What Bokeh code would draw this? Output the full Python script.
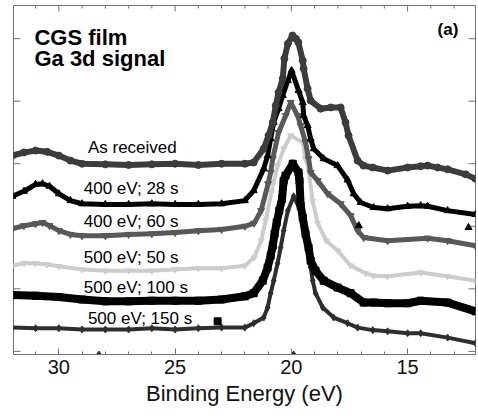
from bokeh.plotting import figure
from bokeh.models import Range1d, LinearAxis, FixedTicker, Label, ColumnDataSource
from bokeh.embed import file_html
from bokeh.resources import INLINE

# ---------------- data (binding energy in eV, intensity in arb. units, offset) -------------
series_names = ["As received", "400 eV; 28 s", "400 eV; 60 s",
                "500 eV; 50 s", "500 eV; 100 s", "500 eV; 150 s"]

as_received_e = [32.0, 31.5, 31.0, 30.5, 30.0, 29.5, 29.0, 28.0, 27.0, 26.0, 25.0, 24.0, 23.0,
                 22.0, 21.62, 21.19, 20.98, 20.80, 20.67, 20.55, 20.37, 20.30, 20.15, 19.95,
                 19.8, 19.7, 19.51, 19.47, 19.30, 19.17, 18.74, 18.3, 17.88, 17.67, 17.54,
                 17.15, 16.9, 16.5, 15.86, 15.0, 14.44, 14.14, 13.71, 13.28, 12.5, 12.08]
as_received_i = [3.13, 3.18, 3.21, 3.19, 3.13, 3.05, 3.00, 2.99, 2.98, 2.99, 3.00, 2.98, 3.00,
                 3.00, 3.02, 3.24, 3.45, 3.66, 3.93, 4.14, 4.36, 4.68, 4.92, 5.05,
                 5.00, 4.94, 4.65, 4.52, 4.20, 4.01, 3.88, 3.90, 3.90, 3.66, 3.45,
                 3.05, 2.97, 2.94, 2.89, 2.94, 2.96, 2.97, 2.94, 2.91, 2.83, 2.76]

ev400_28_e = [32.0, 31.5, 31.0, 30.7, 30.4, 30.0, 29.5, 29.0, 28.0, 27.0, 26.0, 25.0, 24.0,
              23.0, 22.0, 21.62, 21.19, 21.02, 20.89, 20.76, 20.55, 20.37, 20.15, 19.99,
              19.69, 19.51, 19.47, 19.30, 19.17, 19.04, 18.61, 18.01, 17.58, 17.32, 17.02,
              16.46, 15.86, 15.0, 14.44, 14.14, 13.28, 12.08]
ev400_28_i = [2.48, 2.56, 2.67, 2.68, 2.64, 2.52, 2.41, 2.36, 2.35, 2.35, 2.36, 2.35, 2.35,
              2.36, 2.41, 2.57, 2.92, 3.13, 3.40, 3.66, 3.88, 4.09, 4.33, 4.49,
              4.17, 3.98, 3.77, 3.61, 3.40, 3.24, 3.08, 2.97, 2.74, 2.52, 2.38,
              2.30, 2.28, 2.32, 2.33, 2.32, 2.25, 2.19]

ev400_60_e = [32.0, 31.5, 31.0, 30.7, 30.4, 30.0, 29.5, 29.0, 28.0, 27.0, 26.0, 25.0, 24.0,
              23.0, 22.0, 21.6, 21.3, 21.0, 20.89, 20.80, 20.55, 20.24, 20.03, 19.73, 19.60,
              19.39, 19.26, 19.17, 18.87, 18.44, 17.88, 17.45, 17.15, 16.89, 15.86, 14.14,
              13.28, 12.08]
ev400_60_i = [1.96, 2.01, 2.04, 2.06, 2.01, 1.93, 1.87, 1.85, 1.85, 1.87, 1.88, 1.90, 1.93,
              1.95, 2.00, 2.05, 2.25, 2.68, 2.86, 3.08, 3.50, 3.77, 3.98, 3.77, 3.61,
              3.34, 3.08, 2.86, 2.73, 2.52, 2.36, 2.17, 1.93, 1.82, 1.77, 1.81,
              1.77, 1.69]

ev500_50_e = [32.0, 31.5, 31.0, 30.5, 30.0, 29.0, 28.0, 27.0, 26.0, 25.0, 24.0, 23.0, 22.0,
              21.6, 21.3, 21.1, 20.85, 20.59, 20.33, 20.03, 19.51, 19.39, 19.30, 19.08, 18.87,
              18.5, 18.0, 17.45, 16.8, 16.46, 15.86, 14.44, 13.28, 12.08]
ev500_50_i = [1.37, 1.41, 1.41, 1.39, 1.36, 1.31, 1.29, 1.29, 1.29, 1.31, 1.33, 1.33, 1.37,
              1.50, 1.77, 2.10, 2.55, 2.97, 3.24, 3.45, 3.34, 3.08, 3.00, 2.40, 2.05,
              1.77, 1.61, 1.37, 1.25, 1.21, 1.20, 1.26, 1.20, 1.13]

ev500_100_e = [32.0, 31.0, 30.0, 29.0, 28.0, 27.0, 26.0, 25.0, 24.0, 23.0, 22.0, 21.62,
               21.23, 21.02, 20.89, 20.80, 20.72, 20.63, 20.52, 20.40, 20.33, 20.25, 19.94,
               19.69, 19.65, 19.60, 19.51, 19.39, 19.26, 19.17, 18.96, 18.61, 18.01, 17.45,
               16.89, 16.46, 15.86, 15.0, 14.44, 13.28, 12.08]
ev500_100_i = [0.90, 0.89, 0.87, 0.83, 0.80, 0.80, 0.81, 0.81, 0.81, 0.83, 0.88, 0.93,
               1.13, 1.34, 1.53, 1.69, 1.88, 2.06, 2.25, 2.44, 2.73, 2.81, 3.00,
               2.86, 2.73, 2.33, 2.14, 1.88, 1.66, 1.45, 1.29, 1.13, 1.02, 0.93,
               0.78, 0.78, 0.77, 0.77, 0.81, 0.78, 0.64]

ev500_150_e = [32.0, 31.0, 30.0, 29.0, 28.0, 27.0, 26.0, 25.0, 24.0, 23.0, 22.0, 21.62,
               21.19, 21.02, 20.89, 20.76, 20.59, 20.46, 20.33, 20.15, 19.9, 19.60, 19.47,
               19.30, 19.17, 19.08, 18.96, 18.65, 18.18, 17.58, 17.15, 16.5, 15.86, 15.0,
               14.44, 13.28, 12.08]
ev500_150_i = [0.38, 0.37, 0.37, 0.35, 0.35, 0.35, 0.37, 0.35, 0.37, 0.38, 0.38, 0.45,
               0.54, 0.70, 0.93, 1.13, 1.41, 1.66, 1.93, 2.25, 2.48, 2.25, 1.93,
               1.66, 1.34, 1.13, 0.93, 0.70, 0.54, 0.45, 0.38, 0.34, 0.32, 0.29,
               0.29, 0.22, 0.13]

# stray single markers visible in the original figure
stray_square_e, stray_square_i = [23.17], [0.48]
stray_triangle_e, stray_triangle_i = [17.1, 12.38], [2.01, 1.98]
stray_diamond_e, stray_diamond_i = [28.28, 19.9], [-0.05, -0.05]

x_major = [30, 25, 20, 15]
x_minor = [31, 29, 28, 27, 26, 24, 23, 22, 21, 19, 18, 17, 16, 14, 13]
y_ticks = [0, 1, 2, 3, 4, 5]

# ---------------- figure -------------
W, H = 478, 416
BL, BR, BT, BB = 13, 3, 5, 62
X0, X1 = 31.95, 12.08
Y0, Y1 = -0.05, 5.53

p = figure(width=W, height=H, output_backend="svg", toolbar_location=None,
           x_range=Range1d(X0, X1), y_range=Range1d(Y0, Y1),
           x_axis_type=None, y_axis_type=None,
           min_border_left=BL, min_border_right=BR, min_border_top=BT, min_border_bottom=BB)
p.background_fill_color = "white"
p.border_fill_color = "white"
AX = "#707070"
p.outline_line_color = AX
p.outline_line_width = 1

FONT = "Liberation Sans"

xb = LinearAxis(ticker=FixedTicker(ticks=x_major, minor_ticks=x_minor),
                axis_label="Binding Energy (eV)")
xb.axis_line_color = AX
xb.major_tick_line_color = AX
xb.minor_tick_line_color = AX
xb.major_tick_out = 0
xb.minor_tick_out = 0
xb.major_tick_in = 6
xb.minor_tick_in = 3
xb.major_label_text_font = FONT
xb.major_label_text_font_size = "20px"
xb.major_label_text_color = "#111111"
xb.major_label_standoff = 5
xb.axis_label_text_font = FONT
xb.axis_label_text_font_size = "22px"
xb.axis_label_text_font_style = "normal"
xb.axis_label_text_color = "#111111"
xb.axis_label_standoff = 4
p.add_layout(xb, "below")

# inward ticks on the top, left and right frame edges (lengths in pixels -> data units)
frame_w = W - BL - BR
frame_h = H - BT - BB
ev_per_px = (X0 - X1) / frame_w
u_per_px = (Y1 - Y0) / frame_h
top_x = x_major + x_minor
top_len = [6 * u_per_px] * len(x_major) + [3 * u_per_px] * len(x_minor)
p.segment(x0=top_x, y0=[Y1] * len(top_x), x1=top_x, y1=[Y1 - l for l in top_len],
          line_color=AX, line_width=1)
p.segment(x0=[X0] * len(y_ticks), y0=y_ticks, x1=[X0 - 7 * ev_per_px] * len(y_ticks), y1=y_ticks,
          line_color=AX, line_width=1)
p.segment(x0=[X1] * len(y_ticks), y0=y_ticks, x1=[X1 + 7 * ev_per_px] * len(y_ticks), y1=y_ticks,
          line_color=AX, line_width=1)

# ---------------- curves -------------
curves = [
    (ev500_50_e, ev500_50_i, "#cccccc", "inverted_triangle", 4, 6),
    (ev500_150_e, ev500_150_i, "#2e2e2e", "diamond", 4, 7),
    (ev500_100_e, ev500_100_i, "#000000", "square", 8, 7),
    (ev400_60_e, ev400_60_i, "#585858", "inverted_triangle", 5, 7),
    (ev400_28_e, ev400_28_i, "#000000", "triangle", 5, 7),
    (as_received_e, as_received_i, "#3c3c3c", "circle", 6, 7),
]
for xs, ys, col, mk, lw, ms in curves:
    src = ColumnDataSource(dict(x=xs, y=ys))
    p.line("x", "y", source=src, line_color=col, line_width=lw, line_join="round")
    p.scatter("x", "y", source=src, marker=mk, size=ms, fill_color=col, line_color=col)

p.scatter(stray_square_e, stray_square_i, marker="square", size=7, color="#000000")
p.scatter(stray_triangle_e, stray_triangle_i, marker="triangle", size=7, color="#000000")
p.scatter(stray_diamond_e, stray_diamond_i, marker="diamond", size=7, color="#2e2e2e")

# ---------------- texts -------------
LIFT = 5 * u_per_px  # compensate the renderer's baseline offset

def add_text(x, y, txt, size, bold=False):
    p.add_layout(Label(x=x, y=y + LIFT, text=txt, text_font=FONT, text_font_size=size,
                       text_font_style="bold" if bold else "normal",
                       text_color="#000000", text_baseline="alphabetic", text_align="left"))

add_text(31.05, 4.94, "CGS film", "22px", True)
add_text(31.05, 4.60, "Ga 3d signal", "22px", True)
add_text(13.71, 5.06, "(a)", "17px", True)

label_pos = [(28.75, 3.18), (28.93, 2.52), (28.93, 2.00), (28.93, 1.42), (28.93, 0.94), (28.75, 0.45)]
for name, (lx, ly) in zip(series_names, label_pos):
    add_text(lx, ly, name, "17px")

open("out.html", "w").write(file_html(p, INLINE))
